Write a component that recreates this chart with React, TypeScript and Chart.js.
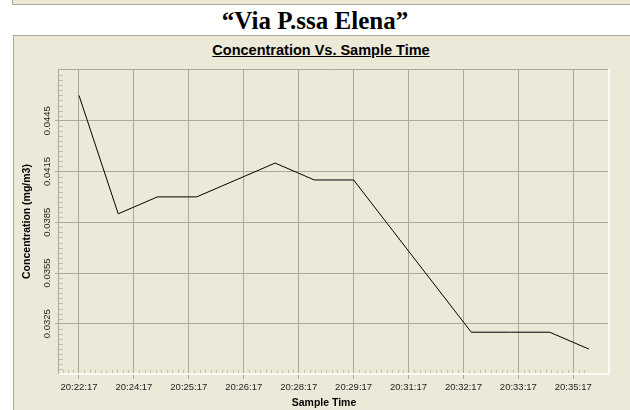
import React, { useEffect, useRef } from "react";
import { Chart, registerables } from "chart.js";

Chart.register(...registerables);

const pageTitle = "\u201CVia P.ssa Elena\u201D";
const chartTitle = "Concentration Vs. Sample Time";
const xAxisTitle = "Sample Time";
const yAxisTitle = "Concentration (mg/m3)";

const sampleTimes = [
  "20:22:17", "20:23:17", "20:24:17", "20:25:17", "20:26:17", "20:27:17", "20:28:17",
  "20:29:17", "20:30:17", "20:31:17", "20:32:17", "20:33:17", "20:34:17", "20:35:17",
];
const concentration = [
  0.0460, 0.0390, 0.0400, 0.0400, 0.0410, 0.0420, 0.0410,
  0.0410, 0.0380, 0.0350, 0.0320, 0.0320, 0.0320, 0.0310,
];
const xTickLabels = [
  "20:22:17", "20:24:17", "20:25:17", "20:26:17", "20:28:17",
  "20:29:17", "20:31:17", "20:32:17", "20:33:17", "20:35:17",
];
const yTickValues = [0.0325, 0.0355, 0.0385, 0.0415, 0.0445];

// axis ranges (minutes since first sample / mg/m3)
const X_MIN = -0.535;
const X_MAX = 13.485;
const X_TICK_STEP = 1.4;
const X_MINOR_DIV = 10;
const Y_MIN = 0.02953;
const Y_MAX = 0.04756;
const Y_MINOR_STEP = 0.0003;

const BG = "#ECE9D8";
const GRID = "#ADA999";
const MINOR = "#C4C0B0";
const FRAME = "#ACA899";
const TEXT = "#1E1E1E";
const FONT = "'Liberation Sans', Arial, sans-serif";

const toMinutes = (t: string) => {
  const [h, m, s] = t.split(":").map(Number);
  return h * 60 + m + s / 60;
};
const t0 = toMinutes(sampleTimes[0]);
const xValues = sampleTimes.map((t) => toMinutes(t) - t0);

const decorPlugin = {
  id: "decor",
  beforeDatasetsDraw(chart: any) {
    const { ctx, chartArea: a, scales } = chart;
    const x = scales.x;
    const y = scales.y;
    ctx.save();
    ctx.lineWidth = 1;
    ctx.strokeStyle = MINOR;
    ctx.beginPath();
    const xStep = X_TICK_STEP / X_MINOR_DIV;
    const lastX = xValues[xValues.length - 1];
    for (let k = Math.ceil(X_MIN / xStep); k * xStep <= lastX + 1e-9; k++) {
      if (Math.abs(k % X_MINOR_DIV) === 0) continue;
      const px = Math.round(x.getPixelForValue(k * xStep)) + 0.5;
      if (px < a.left + 2) continue;
      ctx.moveTo(px, a.bottom - 4);
      ctx.lineTo(px, a.bottom);
    }
    const base = yTickValues[0];
    for (let k = Math.ceil((Y_MIN - base) / Y_MINOR_STEP); base + k * Y_MINOR_STEP <= Y_MAX; k++) {
      if (Math.abs(k % 10) === 0) continue;
      const py = Math.round(y.getPixelForValue(base + k * Y_MINOR_STEP)) + 0.5;
      if (py < a.top + 3 || py > a.bottom - 3) continue;
      ctx.moveTo(a.left, py);
      ctx.lineTo(a.left + 5, py);
    }
    ctx.stroke();

    // frame: gray top/left, white bottom/right
    ctx.strokeStyle = GRID;
    ctx.beginPath();
    ctx.moveTo(a.left + 0.5, a.bottom);
    ctx.lineTo(a.left + 0.5, a.top + 0.5);
    ctx.lineTo(a.right, a.top + 0.5);
    ctx.stroke();
    ctx.strokeStyle = "#FAFAF6";
    ctx.lineWidth = 2;
    ctx.beginPath();
    ctx.moveTo(a.left + 1, a.bottom);
    ctx.lineTo(a.right + 1, a.bottom);
    ctx.lineTo(a.right + 1, a.top);
    ctx.stroke();
    ctx.restore();
  },
  afterDraw(chart: any) {
    const { ctx, chartArea: a, scales } = chart;
    const y = scales.y;
    ctx.save();
    ctx.fillStyle = TEXT;
    ctx.font = `9.5px ${FONT}`;
    ctx.textAlign = "center";
    ctx.textBaseline = "middle";
    for (const t of y.ticks) {
      const py = y.getPixelForValue(t.value);
      ctx.save();
      ctx.translate(47.5, py);
      ctx.rotate(-Math.PI / 2);
      ctx.fillText(Number(t.value).toFixed(4), 0, 0);
      ctx.restore();
    }
    ctx.font = `bold 10.5px ${FONT}`;
    ctx.fillStyle = "#000";
    ctx.fillText(xAxisTitle, 324, 403.5);
    ctx.save();
    ctx.translate(27, (a.top + a.bottom) / 2);
    ctx.rotate(-Math.PI / 2);
    ctx.fillText(yAxisTitle, 0, 0);
    ctx.restore();
    ctx.restore();
  },
};

function LineChart() {
  const ref = useRef<HTMLCanvasElement | null>(null);
  useEffect(() => {
    if (!ref.current) return;
    const chart = new Chart(ref.current, {
      type: "line",
      data: {
        datasets: [
          {
            data: xValues.map((xv, i) => ({ x: xv, y: concentration[i] })),
            borderColor: "#000000",
            borderWidth: 1,
            pointRadius: 0,
            fill: false,
            tension: 0,
          },
        ],
      },
      options: {
        animation: false,
        responsive: false,
        devicePixelRatio: 1,
        layout: { padding: { left: 0, top: 69, right: 22, bottom: 0 } },
        plugins: { legend: { display: false }, tooltip: { enabled: false }, title: { display: false } },
        scales: {
          x: {
            type: "linear",
            min: X_MIN,
            max: X_MAX,
            offset: false,
            afterBuildTicks: (s: any) => {
              s.ticks = xTickLabels.map((_, i) => ({ value: i * X_TICK_STEP }));
            },
            afterFit: (s: any) => {
              s.height = 36;
            },
            ticks: {
              autoSkip: false,
              maxRotation: 0,
              minRotation: 0,
              padding: 3,
              color: TEXT,
              font: { family: FONT, size: 9.5 },
              callback: (_v: any, i: number) => xTickLabels[i],
            },
            grid: { color: GRID, tickColor: GRID, tickLength: 5, lineWidth: 1 },
            border: { display: false },
          },
          y: {
            type: "linear",
            min: Y_MIN,
            max: Y_MAX,
            afterBuildTicks: (s: any) => {
              s.ticks = yTickValues.map((v) => ({ value: v }));
            },
            afterFit: (s: any) => {
              s.width = 58;
            },
            ticks: { display: false },
            grid: { color: GRID, tickColor: GRID, tickLength: 3, lineWidth: 1 },
            border: { display: false },
          },
        },
      },
      plugins: [decorPlugin],
    });
    return () => chart.destroy();
  }, []);
  return (
    <canvas
      ref={ref}
      width={630}
      height={410}
      style={{ position: "absolute", left: 0, top: 0, width: 630, height: 410 }}
    />
  );
}

export default function App() {
  return (
    <div
      style={{
        position: "fixed",
        left: 0,
        top: 0,
        width: 630,
        height: 410,
        overflow: "hidden",
        background: "#FFFFFF",
      }}
    >
      <div
        style={{
          position: "absolute",
          left: 12,
          top: -20,
          width: 640,
          height: 25,
          boxSizing: "border-box",
          border: `1px solid ${FRAME}`,
          background: BG,
        }}
      />
      <div
        style={{
          position: "absolute",
          left: 315,
          top: 8,
          transform: "translateX(-50%)",
          whiteSpace: "nowrap",
          fontFamily: "'Liberation Serif', 'Times New Roman', serif",
          fontWeight: "bold",
          fontSize: 25,
          lineHeight: "25px",
          color: "#000",
        }}
      >
        {pageTitle}
      </div>
      <div
        style={{
          position: "absolute",
          left: 13,
          top: 35,
          width: 640,
          height: 400,
          boxSizing: "border-box",
          border: `1px solid ${FRAME}`,
          background: BG,
        }}
      />
      <div
        style={{
          position: "absolute",
          left: 321,
          top: 43,
          transform: "translateX(-50%)",
          whiteSpace: "nowrap",
          fontFamily: FONT,
          fontWeight: "bold",
          fontSize: 14.5,
          lineHeight: "14px",
          color: "#000",
          textDecoration: "underline",
        }}
      >
        {chartTitle}
      </div>
      <LineChart />
    </div>
  );
}
